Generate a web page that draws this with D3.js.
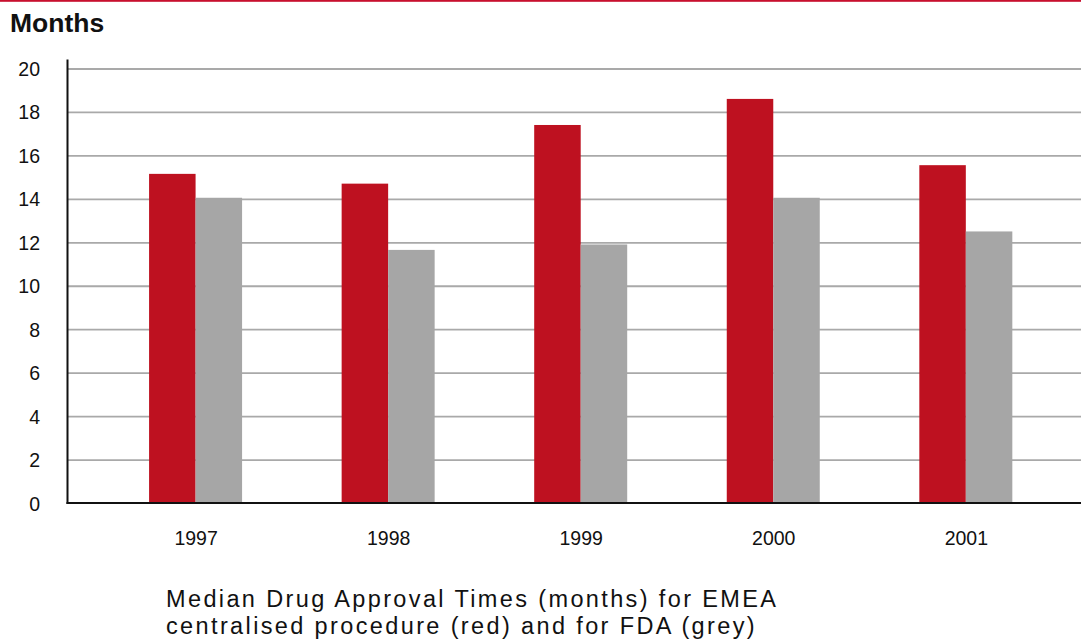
<!DOCTYPE html>
<html>
<head>
<meta charset="utf-8">
<script src="https://cdn.jsdelivr.net/npm/d3@7"></script>
<style>
  html, body { margin: 0; padding: 0; background: #fff; }
  svg { display: block; }
  text { font-family: "Liberation Sans", Arial, Helvetica, sans-serif; fill: #111; }
</style>
</head>
<body>
<svg id="chart" width="1081" height="644"></svg>
<script>
const years = ["1997", "1998", "1999", "2000", "2001"];
const emeaValues = [15.15, 14.7, 17.4, 18.6, 15.55];
const fdaValues = [14.05, 11.65, 11.9, 14.05, 12.5];
const yTicks = [0, 2, 4, 6, 8, 10, 12, 14, 16, 18, 20];
const seriesNames = ["EMEA", "FDA"];
const yTitle = "Months";
const captionLines = [
  "Median Drug Approval Times (months) for EMEA",
  "centralised procedure (red) and for FDA (grey)"
];

const W = 1081, H = 644;
const svg = d3.select("#chart");
const colors = d3.scaleOrdinal().domain(seriesNames).range(["#be1120", "#a6a6a6"]);

const axisX = 67.5;
const y = d3.scaleLinear().domain([0, 20]).range([503, 68.5]);
const x = d3.scaleBand().domain(years).range([99.8, 1062.6]);
const xInner = d3.scaleBand().domain(seriesNames).range([-47, 46]);

// top red rule
svg.append("rect").attr("x", 0).attr("y", 0).attr("width", W).attr("height", 1.8).attr("fill", "#c8102e");

// title
svg.append("text").attr("x", 10).attr("y", 31.5)
  .attr("font-size", 26.5).attr("font-weight", 900).attr("fill", "#000").text(yTitle);

// gridlines
const grid = d3.axisLeft(y).tickValues(yTicks.filter(d => d > 0)).tickSize(-(W - axisX)).tickFormat("");
svg.append("g").attr("transform", `translate(${axisX},0)`).call(grid)
  .call(g => g.select(".domain").remove())
  .call(g => g.selectAll("line").attr("stroke", "#a9a9a9").attr("stroke-width", 1.8));

// y tick labels
const yAxis = d3.axisLeft(y).tickValues(yTicks).tickSize(0).tickPadding(0).tickFormat(d3.format("d"));
svg.append("g").attr("transform", `translate(40,0)`).call(yAxis)
  .call(g => g.select(".domain").remove())
  .call(g => g.selectAll("text").attr("font-size", 19.5).attr("font-family", "Liberation Sans, Arial, sans-serif").attr("fill", "#111").attr("dy", "0.36em"));

// bars
const data = years.map((yr, i) => ({ year: yr, vals: [
  { key: "EMEA", v: emeaValues[i] }, { key: "FDA", v: fdaValues[i] }
]}));
const groups = svg.append("g").selectAll("g").data(data).join("g")
  .attr("transform", d => `translate(${x(d.year) + x.bandwidth() / 2},0)`);
groups.selectAll("rect").data(d => d.vals).join("rect")
  .attr("x", d => xInner(d.key))
  .attr("width", xInner.bandwidth())
  .attr("y", d => y(d.v))
  .attr("height", d => y(0) - y(d.v))
  .attr("fill", d => colors(d.key));

// axes lines
svg.append("line").attr("x1", axisX).attr("x2", axisX).attr("y1", 59.5).attr("y2", y(0) + 1)
  .attr("stroke", "#111").attr("stroke-width", 2);
svg.append("line").attr("x1", axisX - 1).attr("x2", W).attr("y1", y(0)).attr("y2", y(0))
  .attr("stroke", "#111").attr("stroke-width", 2);

// x labels
const xAxis = d3.axisBottom(x).tickSize(0).tickPadding(0);
svg.append("g").attr("transform", `translate(0,545)`).call(xAxis)
  .call(g => g.select(".domain").remove())
  .call(g => g.selectAll("text").attr("font-size", 19.5).attr("font-family", "Liberation Sans, Arial, sans-serif").attr("fill", "#111").attr("dy", 0));

// caption
const cap = svg.append("g");
const capTexts = cap.selectAll("text").data(captionLines).join("text")
  .attr("x", 166).attr("y", (d, i) => 606.5 + i * 27.5)
  .attr("font-size", 23.5).attr("fill", "#111").text(d => d);
const w0 = capTexts.nodes()[0].getComputedTextLength();
const n0 = captionLines[0].length;
capTexts.attr("letter-spacing", Math.max(0, (610 - w0) / (n0 - 1)));
</script>
</body>
</html>
